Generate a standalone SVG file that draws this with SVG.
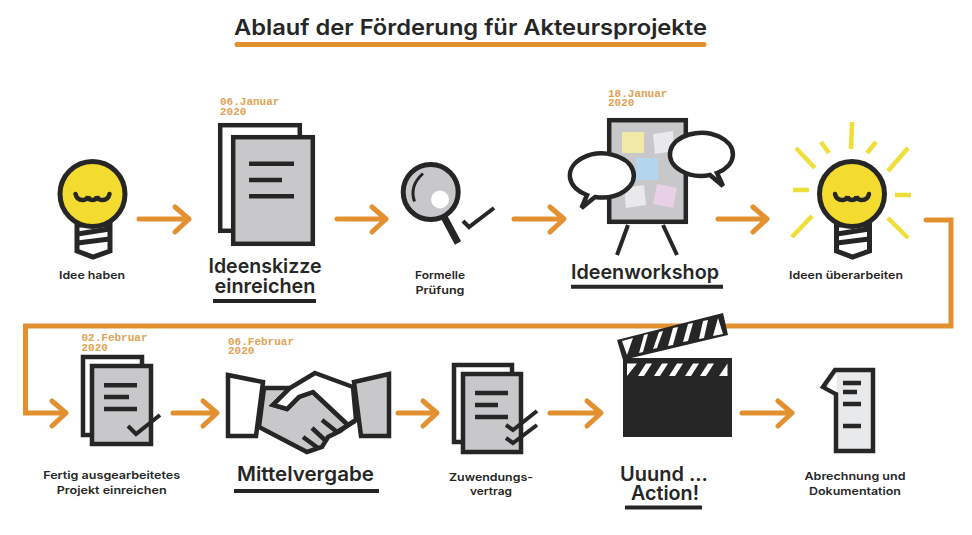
<svg xmlns="http://www.w3.org/2000/svg" width="972" height="535" viewBox="0 0 972 535">
<style>
text{font-family:"Inter","Liberation Sans",sans-serif;fill:#262626;text-anchor:middle}
.h{font-size:20px;font-weight:600}
.s{font-size:11px;font-weight:600}
.d{font-family:"Liberation Mono",monospace;font-size:11px;font-weight:700;fill:#E0A356;text-anchor:start}
.l{fill:none;stroke:#262626;stroke-width:4.5}
.u{fill:none;stroke:#262626;stroke-width:4}
.b{fill:#fff;stroke:#262626;stroke-width:4.5;stroke-linejoin:miter}
.g{fill:#c8c8ca;stroke:#262626;stroke-width:4.5;stroke-linejoin:miter}
.c{fill:none;stroke:#E39130;stroke-width:5;stroke-linecap:round;stroke-linejoin:round}
.cm{fill:none;stroke:#E39130;stroke-width:5;stroke-linejoin:miter;stroke-linecap:round}
.r{fill:none;stroke:#F0DE3A;stroke-width:4.5}
.w{fill:#fff}
</style>
<defs>
<g id="bulb">
<path d="M-15.5 31V57L0.5 63L17.5 57V31Z" fill="#fff" stroke="#262626" stroke-width="5"/>
<path d="M-15 40L17 35M-15 49L17 45" fill="none" stroke="#262626" stroke-width="5"/>
<circle cx="0" cy="0" r="32.5" fill="#F3DC2F" stroke="#262626" stroke-width="5"/>
<path d="M-17 0Q-15.500 6.500-9 6Q-5 5.500-4.500 2Q-4.500 6 0 6Q4.500 6 4.500 2Q5 5.500 9 6Q15.500 6.500 17 0" fill="none" stroke="#262626" stroke-width="4.500" stroke-linecap="round"/>
</g>
</defs>
<g id="connectors">
<path class="c" d="M139 219H189M175 207L189 219L175 232"/>
<path class="c" d="M337 219H386M372 207L386 219L372 232"/>
<path class="c" d="M514 219H563M550 207L564 219L550 232"/>
<path class="c" d="M718 219H767M753 207L767 219L753 232"/>
<path class="cm" d="M926 220H951V326H25.500V413H65"/>
<path class="c" d="M52 401L66 413L52 426"/>
<path class="c" d="M173 413H216M203 401L217 413L203 426"/>
<path class="c" d="M398 413H436M423 401L437 413L423 426"/>
<path class="c" d="M550 413H600M587 401L601 413L587 426"/>
<path class="c" d="M742 413H791M778 401L792 413L778 426"/>
</g>
<g id="title">
<text x="470.500" y="35" style="font-size:22px;font-weight:600" textLength="473" lengthAdjust="spacingAndGlyphs">Ablauf der Förderung für Akteursprojekte</text>
<path d="M237 44.500H704" fill="none" stroke="#E39130" stroke-width="5" stroke-linecap="round"/>
</g>
<g id="idee-haben">
<use href="#bulb" x="92.500" y="194"/>
<text class="s" x="92" y="279" textLength="66" lengthAdjust="spacingAndGlyphs">Idee haben</text>
</g>
<g id="ideenskizze">
<text class="d"><tspan x="220" y="105">06.Januar</tspan><tspan x="220" y="115">2020</tspan></text>
<rect class="b" x="220.200" y="125.200" width="79.600" height="105.600"/>
<rect class="g" x="233.200" y="137.200" width="79.600" height="106.600"/>
<path class="l" d="M249 163.700H294M249 180H282M249 196.300H294"/>
<text class="h"><tspan x="265" y="273" textLength="113" lengthAdjust="spacingAndGlyphs">Ideenskizze</tspan><tspan x="265" y="293" textLength="101" lengthAdjust="spacingAndGlyphs">einreichen</tspan></text>
<path class="u" d="M213 301H316"/>
</g>
<g id="formelle-pruefung">
<path d="M443 215L458 243" fill="none" stroke="#262626" stroke-width="7"/>
<circle cx="430.700" cy="192" r="27.500" fill="#c8c8ca" stroke="#262626" stroke-width="5"/>
<circle cx="440" cy="199.500" r="9" fill="#fff"/>
<path d="M414.500 201.500Q409 186 423 173.500" fill="none" stroke="#262626" stroke-width="3"/>
<path d="M463 221L469 227L494 208" fill="none" stroke="#262626" stroke-width="4"/>
<text class="s"><tspan x="440" y="279" textLength="50" lengthAdjust="spacingAndGlyphs">Formelle</tspan><tspan x="440" y="294" textLength="49" lengthAdjust="spacingAndGlyphs">Prüfung</tspan></text>
</g>
<g id="ideenworkshop">
<text class="d"><tspan x="608" y="97">18.Januar</tspan><tspan x="608" y="106">2020</tspan></text>
<path class="u" d="M628 225L617 255M663 225L677 255"/>
<rect class="g" x="609.200" y="120.200" width="76.600" height="101.600"/>
<rect x="622" y="132" width="22" height="21" fill="#F1E9A6"/>
<polygon points="653,134 673,131 674,151 655,154" fill="#E9E9EC"/>
<rect x="636" y="158" width="22" height="22" fill="#B3D6EE"/>
<polygon points="624,188 644,185 646,205 626,208" fill="#E9E9EC"/>
<polygon points="657,184 677,188 673,208 653,204" fill="#E8D0E6"/>
<path class="b" d="M587 195A32 22 0 1 1 595 197L581.500 208Z" stroke-linejoin="round"/>
<path class="b" d="M710 175A31.500 21.500 0 1 1 717 173L723 186Z" stroke-linejoin="round"/>
<text class="h" x="645" y="279" textLength="148" lengthAdjust="spacingAndGlyphs">Ideenworkshop</text>
<path class="u" d="M571 286.700H723"/>
</g>
<g id="ideen-ueberarbeiten">
<path class="r" d="M852 122L851 149M821 142L829 153M876 142L867 153M796 148L815 168M908 148L888 171M793 190H809M895 195H911M812 216L792 237M888 218L908 238"/>
<use href="#bulb" x="852" y="194"/>
<text class="s" x="846" y="279" textLength="114" lengthAdjust="spacingAndGlyphs">Ideen überarbeiten</text>
</g>
<g id="projekt-einreichen">
<text class="d"><tspan x="81.500" y="341">02.Februar</tspan><tspan x="81.500" y="351">2020</tspan></text>
<rect class="b" x="83" y="357" width="59" height="78" stroke-width="4"/>
<rect class="g" x="92" y="366" width="59" height="78"/>
<path class="l" d="M104 385.300H137M104 397H129M104 409H137"/>
<path class="u" d="M128 426L136 434L160 415"/>
<text class="s"><tspan x="111.700" y="479" textLength="137" lengthAdjust="spacingAndGlyphs">Fertig ausgearbeitetes</tspan><tspan x="111.700" y="494" textLength="110" lengthAdjust="spacingAndGlyphs">Projekt einreichen</tspan></text>
</g>
<g id="mittelvergabe">
<text class="d"><tspan x="228" y="345">06.Februar</tspan><tspan x="228" y="354">2020</tspan></text>
<polygon class="b" points="228,375 263,382 256,436 228,436"/>
<polygon class="g" points="389,374 354,382 361,436 389,436"/>
<polygon class="g" points="264,388 290,388 273,405 287,409 299,397 313,392 348,425 340,431 328,437 322,447 307,452 259,427"/>
<polygon class="b" points="315,373 353,387 356,420 348,425 313,392 299,397 287,409 273,405 290,388"/>
<path class="l" d="M322 420L337 432L355 421M312 428L327 442M303 437L318 448"/>
<text class="h" x="305.500" y="481" textLength="137" lengthAdjust="spacingAndGlyphs">Mittelvergabe</text>
<path class="u" d="M234 491H379"/>
</g>
<g id="zuwendungsvertrag">
<rect class="b" x="454" y="365" width="58" height="77" stroke-width="4"/>
<rect class="g" x="463" y="374" width="58" height="78"/>
<path class="l" d="M475 393H508M475 405H498M475 417H508"/>
<path class="u" d="M506 425L513 430L537 411M506 438L513 443L537 425"/>
<text class="s"><tspan x="491" y="481" textLength="84" lengthAdjust="spacingAndGlyphs">Zuwendungs-</tspan><tspan x="491" y="495" textLength="42" lengthAdjust="spacingAndGlyphs">vertrag</tspan></text>
</g>
<g id="action">
<polygon points="617,340 723,313 728,335 623,360" fill="#262626"/>
<rect x="623" y="358" width="109" height="79" fill="#262626"/>
<path class="w" d="M622 341L633 338L627 355ZM644 335L648 334L643 352L639 353ZM659 332L663 331L657 348L653 349ZM673 328L678 327L673 345L668 346ZM688 324L693 323L688 341L683 342ZM703 321L708 320L704 338L699 339ZM718 318L723 334L713 336Z"/>
<path class="w" d="M627 363.500H637L627 376ZM646 363.500H652L644 376H638ZM662 363.500H668L660 376H654ZM677 363.500H683L675 376H669ZM693 363.500H699L691 376H685ZM708 363.500H714L706 376H700ZM727.500 363.500V376H719Z"/>
<text class="h"><tspan x="664" y="481" textLength="88" lengthAdjust="spacingAndGlyphs">Uuund ...</tspan><tspan x="665" y="500" textLength="68" lengthAdjust="spacingAndGlyphs">Action!</tspan></text>
<path class="u" d="M625 507.500H702"/>
</g>
<g id="abrechnung">
<polygon points="835,370 873,370 873,451 836,451 836,394 823,387" fill="#E8E9EB" stroke="#262626" stroke-width="4.500"/>
<polygon points="836.500,374 827,387 836.500,392" fill="#fff"/>
<path class="l" d="M843 383H861M843 392H857M843 404H861M843 426H861"/>
<text class="s"><tspan x="855" y="480" textLength="101" lengthAdjust="spacingAndGlyphs">Abrechnung und</tspan><tspan x="855" y="495" textLength="92" lengthAdjust="spacingAndGlyphs">Dokumentation</tspan></text>
</g>
</svg>
